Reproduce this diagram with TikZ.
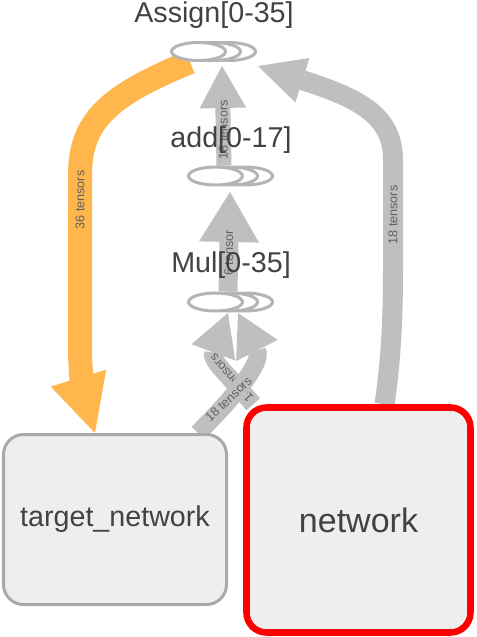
\documentclass[tikz,border=0pt]{standalone}
\usepackage{fontspec}
\setmainfont{Liberation Sans}
\usetikzlibrary{
  arrows.meta,
  backgrounds,
  calc,
  shapes.geometric
}
\definecolor{ink}{HTML}{424242}
\definecolor{muted}{HTML}{616161}
\definecolor{seriesline}{HTML}{B4B4B4}
\definecolor{edgegray}{HTML}{BFBFBF}
\definecolor{refedge}{HTML}{FFB74D}
\definecolor{boxfill}{HTML}{EEEEEE}
\definecolor{boxline}{HTML}{A9A9A9}
\definecolor{selected}{HTML}{FF0000}
\tikzset{
  font=\rmfamily,
  series/.style={
    ellipse,
    draw=seriesline,
    line width=2.25pt,
    fill=white,
    minimum width=40.5pt,
    minimum height=13.5pt,
    inner sep=0pt
  },
  op label/.style={font=\rmfamily\fontsize{21.5}{24}\selectfont, text=ink, anchor=base, inner sep=0pt},
  meta/.style={
    draw=boxline,
    rounded corners=15pt,
    line width=2.25pt,
    fill=boxfill,
    text=ink,
    minimum width=167.25pt,
    minimum height=127.5pt,
    font=\rmfamily\fontsize{21.5}{24}\selectfont
  },
  focus/.style={
    meta,
    draw=selected,
    line width=4.9pt,
    minimum width=168pt,
    minimum height=168.75pt,
    font=\rmfamily\fontsize{25.5}{28}\selectfont
  },
  tensor label/.style={font=\rmfamily\fontsize{9.5}{11}\selectfont, text=muted, inner sep=0pt},
  flow/.style={draw=edgegray},
  refflow/.style={-{Triangle[length=43pt,width=43.5pt,line width=0pt]}, draw=refedge, line width=18pt},
  wideflow/.style={-{Triangle[length=35pt,width=35pt,line width=0pt]}, flow, line width=15pt},
  thinflow/.style={-{Triangle[length=31.5pt,width=35pt,line width=0pt]}, flow, line width=11.25pt},
  midflow/.style={-{Triangle[length=37.5pt,width=45pt,line width=0pt]}, flow, line width=14.25pt},
  crossflow/.style={-{Triangle[length=31.5pt,width=35pt,line width=0pt]}, flow, line width=13.5pt}
}

\begin{document}
\begin{tikzpicture}[x=0.75pt,y=-0.75pt]
  \useasboundingbox (0,0) rectangle (476,637);

  % Series nodes (back to front)
  \node[series] (assign2) at (228.5,51.5) {};
  \node[series] (assign1) at (213.5,51.5) {};
  \node[series] (assign0) at (198.5,51.5) {};
  \node[series] (add2) at (245.5,176) {};
  \node[series] (add1) at (230.5,176) {};
  \node[series] (add0) at (215.5,176) {};
  \node[series] (mul2) at (245.5,302) {};
  \node[series] (mul1) at (230.5,302) {};
  \node[series] (mul0) at (215.5,302) {};

  % Group boxes
  \node[meta] (target) at (115,519.5) {target\_network};
  \node[focus] (network) at (358.5,520) {network};

  % Edges
  \begin{scope}[on background layer]
    \draw[refflow] ($(assign0.south)+(-8.5,0)$) .. controls (110,95) and (80,120) .. (80,175)
      -- node[tensor label, rotate=90] {36 tensors} (80,225)
      -- (80,345) .. controls (80,380) and (85,400) .. ($(target.north)+(-20,0)$);
    \draw[wideflow] ($(network.north)+(26,0)$) .. controls (391,360) and (393,320) .. (393,270)
      -- node[tensor label, rotate=90] {18 tensors} (393,160)
      .. controls (393,115) and (358,98) .. ($(assign0.center)+(59.5,14.5)$);
    \draw[thinflow] ($(add0.north)+(8.5,0)$)
      -- node[tensor label, rotate=90, pos=0.36] {18 tensors} ($(assign0.center)+(23.5,14.5)$);
    \draw[midflow] ($(mul0.north)+(12.5,0)$)
      -- node[tensor label, rotate=90, pos=0.39] {6 tensor} ($(add0.center)+(14.5,16)$);
    \draw[crossflow] ($(network.north west)+(10,0)$) .. controls (223.5,370) and (210.5,360)
      .. node[tensor label, rotate=131, pos=0.3] {18 tensors} ($(mul0.center)+(12.5,11)$);
    \draw[crossflow] ($(target.north east)+(-30,0)$) .. controls (237,394) and (262.8,362)
      .. node[tensor label, rotate=44, pos=0.3] {18 tensors} ($(mul0.center)+(22.5,11)$);
  \end{scope}

  % Op labels
  \node[op label] (assignlabel) at (214,22) {Assign[0-35]};
  \node[op label] (addlabel) at (231,147) {add[0-17]};
  \node[op label] (mullabel) at (231,272) {Mul[0-35]};
\end{tikzpicture}
\end{document}
